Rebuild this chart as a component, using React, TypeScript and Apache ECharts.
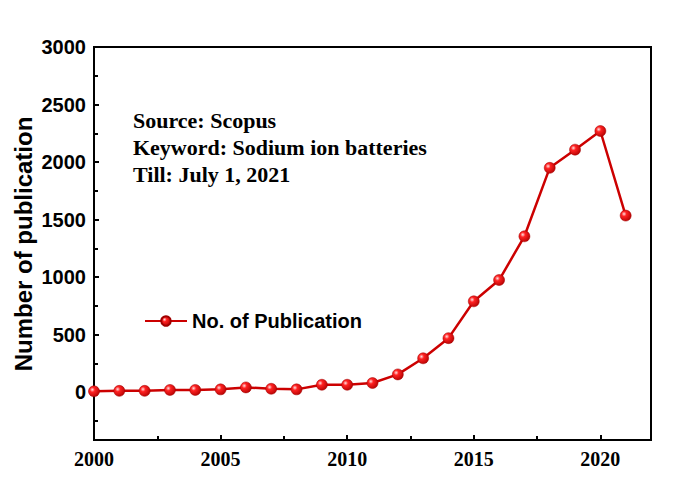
import React, { useEffect, useRef } from "react";
import * as echarts from "echarts";

const years = [2000, 2001, 2002, 2003, 2004, 2005, 2006, 2007, 2008, 2009, 2010, 2011, 2012, 2013, 2014, 2015, 2016, 2017, 2018, 2019, 2020, 2021];
const publications = [8, 12, 12, 20, 20, 25, 42, 30, 25, 65, 65, 80, 155, 295, 470, 790, 975, 1355, 1950, 2108, 2270, 1535];
const yMajorTicks = [0, 500, 1000, 1500, 2000, 2500, 3000];
const yMinorTicks = [-250, 250, 750, 1250, 1750, 2250, 2750];
const infoLines = ["Source: Scopus", "Keyword: Sodium ion batteries", "Till: July 1, 2021"];
const seriesName = "No. of Publication";
const yAxisTitle = "Number of publication";

export default function App() {
  const ref = useRef<HTMLDivElement>(null);
  useEffect(() => {
    document.body.style.margin = "0";
    const chart = echarts.init(ref.current!, null, { renderer: "svg" });
    const markerColor = new echarts.graphic.RadialGradient(0.35, 0.35, 0.75, [
      { offset: 0, color: "#ffe0e0" },
      { offset: 0.3, color: "#ff2222" },
      { offset: 1, color: "#b00000" },
    ]);
    chart.setOption({
      animation: false,
      backgroundColor: "#fff",
      grid: {
        left: 94,
        top: 47,
        width: 557,
        height: 393,
        show: true,
        borderColor: "#000",
        borderWidth: 2,
        backgroundColor: "transparent",
      },
      legend: {
        left: 139,
        top: 306,
        itemWidth: 42,
        itemHeight: 12,
        itemGap: 5,
        textStyle: { fontFamily: "'Liberation Sans', Arial, sans-serif", fontWeight: "bold", fontSize: 20, color: "#000" },
        data: [seriesName],
      },
      xAxis: {
        type: "value",
        min: 2000,
        max: 2022,
        interval: 5,
        axisLine: { show: true, onZero: false, lineStyle: { color: "#000", width: 2 } },
        axisTick: { show: true, inside: true, length: 5, lineStyle: { color: "#000", width: 2 } },
        minorTick: { show: true, splitNumber: 2, length: 4, lineStyle: { color: "#000", width: 2 } },
        splitLine: { show: false },
        axisLabel: {
          margin: 9,
          color: "#000",
          fontFamily: "'Liberation Serif', 'Times New Roman', serif",
          fontWeight: "bold",
          fontSize: 20,
          showMaxLabel: false,
          formatter: (v: number) => (v > 2020 ? "" : String(v)),
        },
      },
      yAxis: [
        {
          type: "value",
          min: -415,
          max: 3000,
          axisLine: { show: true, lineStyle: { color: "#000", width: 2 } },
          axisTick: { show: true, inside: true, length: 5, lineStyle: { color: "#000", width: 2 }, customValues: yMajorTicks },
          splitLine: { show: false },
          axisLabel: {
            margin: 8,
            color: "#000",
            fontFamily: "'Liberation Sans', Arial, sans-serif",
            fontWeight: "bold",
            fontSize: 20,
            customValues: yMajorTicks,
            formatter: (v: number) => String(v),
          },
        },
        {
          type: "value",
          min: -415,
          max: 3000,
          position: "left",
          axisLine: { show: false },
          axisTick: { show: true, inside: true, length: 4, lineStyle: { color: "#000", width: 2 }, customValues: yMinorTicks },
          axisLabel: { show: false },
          splitLine: { show: false },
        },
      ],
      series: [
        {
          name: seriesName,
          type: "line",
          data: years.map((y, i) => [y, publications[i]]),
          symbol: "circle",
          symbolSize: 11,
          lineStyle: { color: "#cc0000", width: 2.5 },
          itemStyle: { color: markerColor, borderColor: "#a00000", borderWidth: 0.5 },
          clip: false,
        },
      ],
      graphic: [
        ...infoLines.map((t, i) => ({
          type: "text",
          x: 133,
          y: 111 + i * 27,
          scaleX: 1.1,
          style: {
            text: t,
            font: "bold 20px 'Liberation Serif', 'Times New Roman', serif",
            fill: "#000",
          },
        })),
        {
          type: "text",
          x: 23,
          y: 244,
          rotation: Math.PI / 2,
          style: {
            text: yAxisTitle,
            font: "bold 24px 'Liberation Sans', Arial, sans-serif",
            fill: "#000",
            textAlign: "center",
            textVerticalAlign: "middle",
          },
        },
      ],
    });
    return () => chart.dispose();
  }, []);
  return <div ref={ref} style={{ width: 700, height: 493 }} />;
}
